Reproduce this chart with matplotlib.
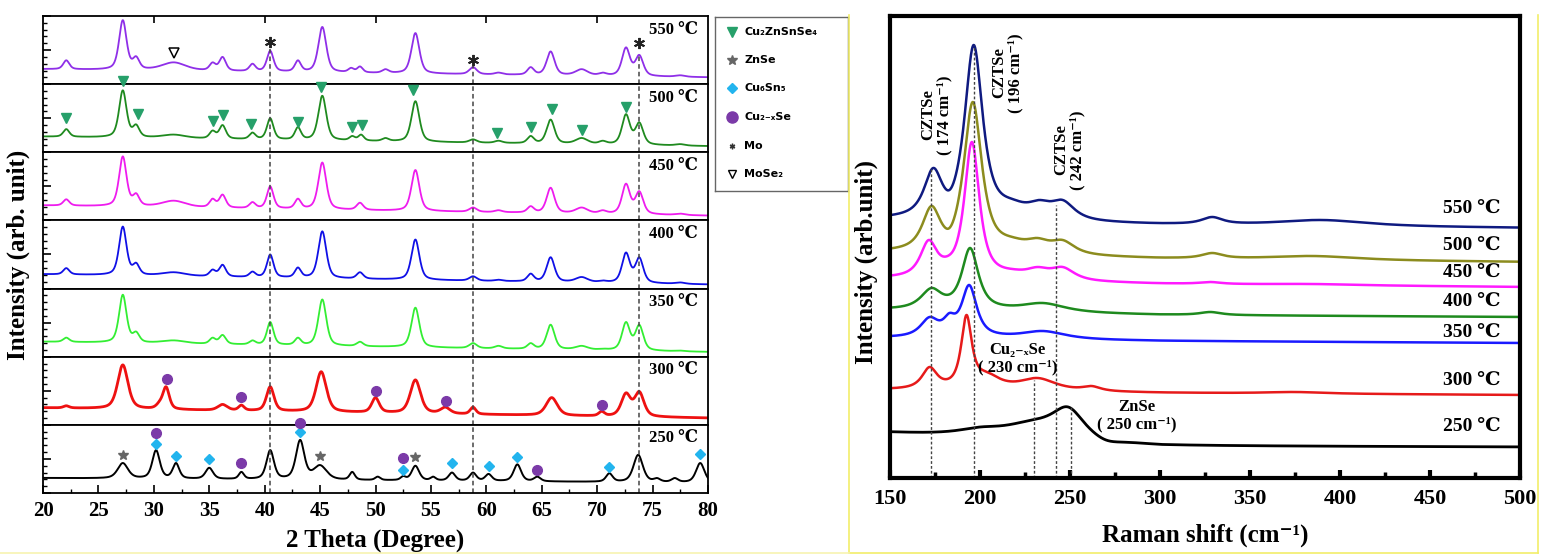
import numpy as np
import matplotlib.pyplot as plt
from matplotlib.ticker import MultipleLocator
from matplotlib.lines import Line2D

# ---------------- XRD data (2 theta in degree, intensity in panel fraction) ----------------
xrd_temps = [550, 500, 450, 400, 350, 300, 250]
xrd_colors = ["#8f2fe8", "#1f8a1f", "#ee1cee", "#1010e6", "#33ee33", "#ee1111", "#000000"]
xrd_lw = [1.3, 1.3, 1.3, 1.3, 1.3, 2.0, 1.4]
xrd_base_left = [0.22, 0.23, 0.22, 0.21, 0.22, 0.25, 0.22]
xrd_base_right = [0.10, 0.09, 0.07, 0.06, 0.07, 0.10, 0.15]

# (position, peak top, fwhm)
xrd_550 = [(22.1, 0.35, 0.65), (27.2, 0.94, 0.8), (28.4, 0.41, 0.7), (31.8, 0.32, 2.6),
           (35.3, 0.32, 0.65), (36.2, 0.40, 0.7), (38.9, 0.30, 0.65), (40.5, 0.49, 0.7),
           (43.0, 0.35, 0.65), (45.2, 0.84, 0.85), (47.8, 0.24, 0.6), (48.6, 0.26, 0.6),
           (50.9, 0.22, 0.7), (53.6, 0.75, 0.85), (58.8, 0.25, 0.8), (61.1, 0.17, 0.8),
           (64.0, 0.25, 0.7), (65.8, 0.48, 0.85), (68.6, 0.22, 1.3), (70.5, 0.17, 0.8),
           (72.6, 0.54, 0.85), (73.8, 0.43, 0.85), (77.5, 0.13, 1.0)]
xrd_500 = [(22.1, 0.34, 0.65), (27.2, 0.91, 0.8), (28.4, 0.41, 0.7), (31.8, 0.26, 2.6),
           (35.3, 0.32, 0.65), (36.2, 0.40, 0.7), (38.9, 0.29, 0.65), (40.5, 0.50, 0.7),
           (43.0, 0.37, 0.65), (45.2, 0.83, 0.85), (47.9, 0.24, 0.6), (48.7, 0.26, 0.6),
           (50.9, 0.21, 0.7), (53.6, 0.75, 0.85), (58.8, 0.19, 0.8), (61.1, 0.17, 0.8),
           (64.0, 0.24, 0.7), (65.8, 0.48, 0.85), (68.6, 0.21, 1.3), (70.5, 0.17, 0.8),
           (72.6, 0.56, 0.85), (73.8, 0.44, 0.85), (77.5, 0.12, 1.0)]
xrd_450 = [(22.1, 0.31, 0.65), (27.2, 0.94, 0.8), (28.4, 0.40, 0.7), (31.8, 0.29, 2.6),
           (35.3, 0.32, 0.65), (36.2, 0.38, 0.7), (38.9, 0.27, 0.65), (40.5, 0.50, 0.7),
           (43.0, 0.32, 0.65), (45.2, 0.85, 0.85), (48.6, 0.26, 0.7), (53.6, 0.74, 0.85),
           (58.8, 0.19, 0.8), (61.1, 0.15, 0.8), (64.0, 0.21, 0.7), (65.8, 0.48, 0.85),
           (68.6, 0.19, 1.3), (70.5, 0.15, 0.8), (72.6, 0.54, 0.85), (73.8, 0.43, 0.85),
           (77.5, 0.10, 1.0)]
xrd_400 = [(22.1, 0.30, 0.65), (27.2, 0.91, 0.8), (28.4, 0.38, 0.7), (31.8, 0.24, 2.6),
           (35.3, 0.28, 0.65), (36.2, 0.35, 0.7), (38.9, 0.25, 0.65), (40.5, 0.50, 0.7),
           (43.0, 0.31, 0.65), (45.2, 0.84, 0.85), (48.6, 0.24, 0.7), (53.6, 0.72, 0.85),
           (58.8, 0.18, 0.8), (61.1, 0.13, 0.8), (64.0, 0.22, 0.7), (65.8, 0.46, 0.85),
           (68.6, 0.17, 1.3), (70.5, 0.12, 0.8), (72.6, 0.53, 0.85), (73.8, 0.46, 0.85),
           (77.5, 0.09, 1.0)]
xrd_350 = [(22.1, 0.28, 0.65), (27.2, 0.91, 0.8), (28.4, 0.37, 0.7), (31.8, 0.24, 2.6),
           (35.3, 0.28, 0.65), (36.2, 0.32, 0.7), (38.9, 0.24, 0.65), (40.5, 0.51, 0.7),
           (43.0, 0.28, 0.65), (45.2, 0.84, 0.85), (48.6, 0.22, 0.7), (53.6, 0.72, 0.85),
           (58.8, 0.20, 0.8), (61.1, 0.16, 0.8), (64.0, 0.20, 0.7), (65.8, 0.47, 0.85),
           (68.6, 0.16, 1.3), (70.5, 0.12, 0.8), (72.6, 0.51, 0.85), (73.8, 0.47, 0.85),
           (77.5, 0.09, 1.0)]
xrd_300 = [(22.1, 0.28, 0.6), (27.2, 0.88, 1.1), (30.5, 0.35, 0.7), (31.1, 0.56, 0.7),
           (36.2, 0.30, 1.0), (37.9, 0.29, 0.6), (40.5, 0.56, 0.8), (45.1, 0.78, 1.1),
           (50.0, 0.40, 0.8), (53.6, 0.66, 1.1), (56.3, 0.26, 1.0), (58.8, 0.26, 0.6),
           (65.9, 0.40, 1.2), (70.4, 0.20, 0.6), (72.6, 0.47, 1.0), (73.8, 0.49, 1.0)]
xrd_250 = [(27.2, 0.44, 1.1), (30.2, 0.63, 0.8), (32.0, 0.44, 0.7), (35.0, 0.37, 0.8),
           (37.9, 0.31, 0.55), (40.5, 0.63, 0.8), (43.2, 0.78, 0.9), (45.0, 0.41, 1.4),
           (47.9, 0.31, 0.55), (50.2, 0.24, 0.55), (52.5, 0.25, 0.55), (53.6, 0.40, 0.8),
           (55.2, 0.24, 0.55), (56.9, 0.30, 0.7), (58.8, 0.30, 0.7), (60.2, 0.28, 0.7),
           (62.8, 0.42, 0.8), (64.6, 0.24, 0.7), (71.1, 0.29, 0.7), (73.7, 0.56, 1.0),
           (75.4, 0.22, 0.7), (77.0, 0.22, 0.7), (79.3, 0.44, 0.9)]
xrd_peaks = [xrd_550, xrd_500, xrd_450, xrd_400, xrd_350, xrd_300, xrd_250]

# phase markers
cztse_x = [22.1, 27.2, 28.6, 35.3, 36.2, 38.8, 43.0, 45.1, 47.9, 48.8, 53.4, 61.0, 64.0, 65.9, 68.6, 72.6]
cztse_y = [0.51, 1.05, 0.56, 0.46, 0.54, 0.41, 0.44, 0.96, 0.37, 0.40, 0.91, 0.28, 0.37, 0.63, 0.32, 0.66]
cu2xse_300_x = [31.2, 37.9, 50.0, 56.4, 70.4]
cu2xse_300_y = [0.68, 0.41, 0.49, 0.35, 0.29]
znse_250_x = [27.2, 45.0, 53.6]
znse_250_y = [0.56, 0.54, 0.53]
cu6sn5_250_x = [30.2, 32.0, 35.0, 43.2, 52.5, 56.9, 60.2, 62.8, 71.1, 79.3]
cu6sn5_250_y = [0.72, 0.54, 0.50, 0.90, 0.34, 0.44, 0.40, 0.53, 0.38, 0.57]
cu2xse_250_x = [30.2, 37.9, 43.2, 52.5, 64.6]
cu2xse_250_y = [0.88, 0.44, 1.03, 0.51, 0.34]
mo_x = [40.5, 58.8, 73.8]
mo_y = [0.62, 0.36, 0.61]
mo_line_top = [0.51, 0.26, 0.43]
mose2_x = [31.8]
mose2_y = [0.46]

# ---------------- Raman data ----------------
raman_temps = [550, 500, 450, 400, 350, 300, 250]
raman_colors = ["#0f1a80", "#8c8c1e", "#ff1aff", "#1e8a1e", "#1a1aff", "#e61a1a", "#000000"]
raman_base_x = [150, 300, 500]
raman_base = [[258, 253, 250], [225, 219, 216], [199, 194, 191], [168, 163, 161],
              [140, 137, 135], [88, 85, 83], [45, 32, 31]]
# (center, curve value, fwhm)
raman_550 = [(174, 310, 12), (183, 288, 10), (196.5, 433, 12), (218, 279, 20), (233, 278, 16),
             (246, 278, 16), (329, 261, 14), (390, 258, 60)]
raman_500 = [(173, 272, 12), (183, 250, 10), (196, 376, 12), (218, 241, 20), (232, 240, 16),
             (246, 238, 16), (329, 225, 14), (385, 222, 60)]
raman_450 = [(171.5, 238, 11), (182, 222, 10), (195.5, 336, 10), (218, 209, 20), (232, 211, 16),
             (246, 211, 16), (328, 196, 14), (385, 194, 60)]
raman_400 = [(173, 190, 14), (194.5, 230, 11), (235, 175, 30), (328, 166, 14)]
raman_350 = [(172, 161, 12), (183, 165, 8), (194, 193, 10), (235, 147, 30)]
raman_300 = [(172, 111, 10), (192.5, 163, 7), (204, 106, 18), (232, 100, 25), (262, 92, 12),
             (375, 86, 40)]
raman_250 = [(200, 51, 30), (229, 58, 40), (249, 71, 22), (270, 38, 20)]
raman_peaks = [raman_550, raman_500, raman_450, raman_400, raman_350, raman_300, raman_250]
raman_label_y = [270, 233, 206, 177, 146, 98, 52]

guide_x = [172.5, 196.5, 230, 242, 250.5]
guide_top = [310, 433, 98, 273, 71]


def pv(x, c, w, eta):
    hw = w / 2.0
    d = (x - c) / hw
    return eta / (1 + d ** 2) + (1 - eta) * np.exp(-np.log(2) * d ** 2)


def build(x, peaks, bx, by, eta):
    c = np.array([p[0] for p in peaks], float)
    top = np.array([p[1] for p in peaks], float)
    w = np.array([p[2] for p in peaks], float)
    M = pv(c[:, None], c[None, :], w[None, :], eta)
    amp = np.linalg.solve(M, top - np.interp(c, bx, by))
    return np.interp(x, bx, by) + (pv(x[:, None], c[None, :], w[None, :], eta) * amp).sum(axis=1)


plt.rcParams["font.family"] = ["Liberation Serif", "DejaVu Serif"]
plt.rcParams["font.weight"] = "bold"

W, H = 1543, 556
fig = plt.figure(figsize=(W / 100, H / 100), dpi=100)


def box(l, t, r, b):
    return [l / W, 1 - b / H, (r - l) / W, (b - t) / H]


serif = ["Liberation Serif", "DejaVu Serif"]

# ---------------- left: XRD stack ----------------
x2t = np.linspace(20, 80, 4000)
ph = (493 - 16) / 7.0
xrd_axes = []
for i, temp in enumerate(xrd_temps):
    ax = fig.add_axes(box(43, 16 + i * ph, 708, 16 + (i + 1) * ph))
    xrd_axes.append(ax)
    y = build(x2t, xrd_peaks[i], [20, 80], [xrd_base_left[i], xrd_base_right[i]], 0.5)
    ax.plot(x2t, y, color=xrd_colors[i], lw=xrd_lw[i])
    ax.set_xlim(20, 80)
    ax.set_ylim(0, 1)
    for s in ax.spines.values():
        s.set_linewidth(1.3)
    ax.yaxis.set_major_locator(MultipleLocator(0.5))
    ax.yaxis.set_minor_locator(MultipleLocator(0.1))
    ax.tick_params(axis="y", which="major", direction="in", length=6, width=1.2, labelleft=False)
    ax.tick_params(axis="y", which="minor", direction="in", length=3, width=1.0)
    ax.text(0.985, 0.8, f"{temp} ℃", transform=ax.transAxes, ha="right", va="center",
            fontsize=12, fontweight="bold", family=serif)
    if i == 0:
        ax.set_xticks([30, 40, 50, 60, 70])
        ax.tick_params(axis="x", which="major", top=True, bottom=False, direction="in",
                       length=5, width=1.2, labelbottom=False)
    elif i == len(xrd_temps) - 1:
        ax.xaxis.set_major_locator(MultipleLocator(5))
        ax.xaxis.set_minor_locator(MultipleLocator(2.5))
        ax.tick_params(axis="x", which="major", direction="in", length=6, width=1.2,
                       labelsize=15, pad=6)
        ax.tick_params(axis="x", which="minor", direction="in", length=3, width=1.0)
        for lab in ax.get_xticklabels():
            lab.set_fontweight("bold")
    else:
        ax.set_xticks([])
    # dashed Mo guide lines
    for k, xm in enumerate(mo_x):
        top = mo_line_top[k] if i == 0 else 1
        ax.plot([xm, xm], [0, top], ls=(0, (3, 2)), color="#444444", lw=1.1)

ax550, ax500, ax300, ax250 = xrd_axes[0], xrd_axes[1], xrd_axes[5], xrd_axes[6]
ax550.plot(mo_x, mo_y, ls="none", marker=(6, 2, 0), ms=8, mew=1.4, color="#222222")
ax550.plot(mose2_x, mose2_y, ls="none", marker="v", ms=7, mfc="white", mec="black", mew=1.1)
ax500.plot(cztse_x, cztse_y, ls="none", marker="v", ms=7, color="#26a06a", clip_on=False, zorder=5)
ax300.plot(cu2xse_300_x, cu2xse_300_y, ls="none", marker="o", ms=7, color="#7b3aa8")
ax250.plot(znse_250_x, znse_250_y, ls="none", marker="*", ms=7, color="#666666")
ax250.plot(cu6sn5_250_x, cu6sn5_250_y, ls="none", marker="D", ms=5.5, color="#22b4ee")
ax250.plot(cu2xse_250_x, cu2xse_250_y, ls="none", marker="o", ms=7, color="#7b3aa8",
           clip_on=False, zorder=5)

fig.text(18 / W, 1 - 255 / H, "Intensity (arb. unit)", rotation=90, ha="center", va="center",
         fontsize=18, fontweight="bold")
fig.text(375 / W, 1 - 540 / H, "2 Theta (Degree)", ha="center", va="center",
         fontsize=18, fontweight="bold")

# legend box
lg = fig.add_axes(box(715, 17, 848, 191))
lg.set_xlim(0, 1)
lg.set_ylim(0, 1)
lg.set_xticks([])
lg.set_yticks([])
for s in lg.spines.values():
    s.set_color("#666666")
    s.set_linewidth(1.0)
leg_labels = ["Cu₂ZnSnSe₄", "ZnSe", "Cu₆Sn₅", "Cu₂₋ₓSe", "Mo", "MoSe₂"]
leg_y = [0.914, 0.753, 0.592, 0.425, 0.259, 0.098]
leg_style = [dict(marker="v", ms=7, color="#26a06a"),
             dict(marker="*", ms=7, color="#666666"),
             dict(marker="D", ms=5.5, color="#22b4ee"),
             dict(marker="o", ms=8, color="#7b3aa8"),
             dict(marker=(6, 2, 0), ms=4, mew=1.0, color="#333333"),
             dict(marker="v", ms=6, mfc="white", mec="black", mew=1.0)]
for lab, yy, st in zip(leg_labels, leg_y, leg_style):
    lg.plot([0.13], [yy], ls="none", **st)
    lg.text(0.22, yy, lab, ha="left", va="center", fontsize=8, fontweight="bold",
            family=["DejaVu Sans"])

# ---------------- right: Raman ----------------
xr = np.linspace(150, 500, 2000)
axr = fig.add_axes(box(890, 16, 1520, 478))
for i, temp in enumerate(raman_temps):
    y = build(xr, raman_peaks[i], raman_base_x, raman_base[i], 0.85)
    axr.plot(xr, y, color=raman_colors[i], lw=2.0 if i == 6 else 1.8)
    axr.text(489, raman_label_y[i], f"{temp} ℃", ha="right", va="center", fontsize=14,
             fontweight="bold", family=serif)
axr.vlines(guide_x, 0, guide_top, colors="#444444", linestyles=(0, (2, 1.5)), lw=1.0)
axr.set_xlim(150, 500)
axr.set_ylim(0, 462)
for s in axr.spines.values():
    s.set_linewidth(3)
axr.xaxis.set_major_locator(MultipleLocator(50))
axr.xaxis.set_minor_locator(MultipleLocator(25))
axr.tick_params(axis="x", which="major", direction="in", length=6, width=3, labelsize=16, pad=8)
axr.tick_params(axis="x", which="minor", direction="in", length=4, width=2.5)
axr.tick_params(axis="y", left=False, labelleft=False)
for lab in axr.get_xticklabels():
    lab.set_fontweight("bold")

axr.text(175.6, 363, "CZTSe\n( 174 cm⁻¹)", rotation=90, ha="center", va="center",
         fontsize=12, fontweight="bold", family=serif, linespacing=1.0)
axr.text(215, 405, "CZTSe\n( 196 cm⁻¹)", rotation=90, ha="center", va="center",
         fontsize=12, fontweight="bold", family=serif, linespacing=1.0)
axr.text(249.5, 328, "CZTSe\n( 242 cm⁻¹)", rotation=90, ha="center", va="center",
         fontsize=12, fontweight="bold", family=serif, linespacing=1.0)
axr.text(221, 119, "Cu₂₋ₓSe\n( 230 cm⁻¹)", ha="center", va="center",
         fontsize=12, fontweight="bold", family=serif, linespacing=1.1)
axr.text(287, 62, "ZnSe\n( 250 cm⁻¹)", ha="center", va="center",
         fontsize=12, fontweight="bold", family=serif, linespacing=1.1)

fig.text(866 / W, 1 - 262 / H, "Intensity (arb.unit)", rotation=90, ha="center", va="center",
         fontsize=18, fontweight="bold")
fig.text(1205 / W, 1 - 535 / H, "Raman shift (cm⁻¹)", ha="center", va="center",
         fontsize=18, fontweight="bold", family=serif)

# yellow frame lines of the right image and faint bottom edge of the left one
yb = 1 - 553 / H
yt = 1 - 15 / H
for xs, ys, c in [([849 / W, 849 / W], [yt, yb], "#f2ee6a"),
                  ([1538 / W, 1538 / W], [yt, yb], "#f2ee6a"),
                  ([849 / W, 1538 / W], [yb, yb], "#f2ee6a"),
                  ([0, 849 / W], [yb, yb], "#f7f3b0")]:
    fig.add_artist(Line2D(xs, ys, transform=fig.transFigure, color=c, lw=1.2))

fig.savefig("out.png", dpi=100)
